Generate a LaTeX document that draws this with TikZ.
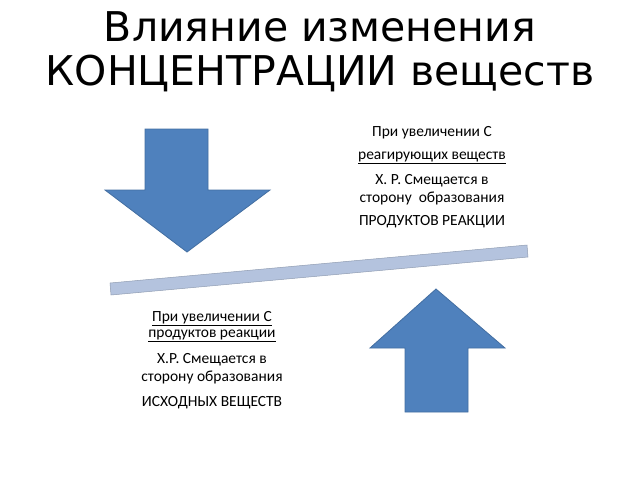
\documentclass[tikz,border=0pt]{standalone}
\usepackage{fontspec}
\setmainfont{Carlito}
\newfontfamily\titlefont{DejaVu Sans}
\definecolor{arrowblue}{HTML}{4F81BD}
\definecolor{barblue}{HTML}{B4C3DE}
\begin{document}
\begin{tikzpicture}[x=1pt,y=-1pt,
  arrowshape/.style={fill=arrowblue,draw=arrowblue!85!black,line width=0.8pt},
  txt/.style={font=\fontsize{15.5}{18}\selectfont,align=center,inner sep=0pt},
  ttl/.style={font=\titlefont\fontsize{41}{44}\selectfont,align=center,inner sep=0pt}]
\useasboundingbox (0,0) rectangle (640,480);
\node[ttl] (title) at (320,52) {Влияние изменения\\КОНЦЕНТРАЦИИ веществ};
% down arrow
\draw[arrowshape] (145,129) -- (208,129) -- (208,190) -- (270,190) -- (187,252) -- (105,190) -- (145,190) -- cycle;
% up arrow
\draw[arrowshape] (405,412) -- (468,412) -- (468,348) -- (505,348) -- (436,289) -- (370,348) -- (405,348) -- cycle;
% bar
\draw[fill=barblue,draw=barblue!80!black,line width=0.5pt] (110,283) -- (527,245) -- (528,257) -- (111,295) -- cycle;
% right text
\node[txt] (r1) at (432,133) {При увеличении С};
\node[txt] (r2) at (432,158) {\underline{реагирующих веществ}};
\node[txt] (r3) at (432,181) {Х. Р. Смещается в};
\node[txt] (r4) at (432,198) {сторону \ образования};
\node[txt] (r5) at (432,222) {ПРОДУКТОВ РЕАКЦИИ};
% left text
\node[txt] (l1) at (212,319) {\underline{При увеличении С}};
\node[txt] (l2) at (212,336) {\underline{продуктов реакции}};
\node[txt] (l3) at (212,360) {Х.Р. Смещается в};
\node[txt] (l4) at (212,377) {сторону образования};
\node[txt] (l5) at (212,403) {ИСХОДНЫХ ВЕЩЕСТВ};
\end{tikzpicture}
\end{document}
